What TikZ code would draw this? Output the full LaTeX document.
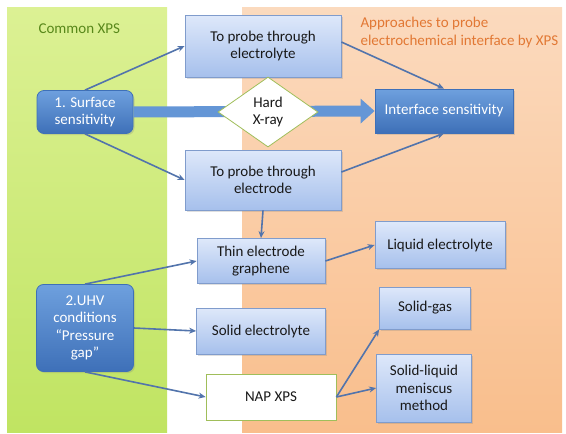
\documentclass[tikz,border=0pt]{standalone}
\usepackage{fontspec}
\setmainfont{Carlito}
\usetikzlibrary{arrows.meta,shapes.geometric,shadows}

\definecolor{greentop}{RGB}{220,241,148}
\definecolor{greenbottom}{RGB}{192,228,98}
\definecolor{greentext}{RGB}{88,136,26}
\definecolor{orangetop}{RGB}{251,218,190}
\definecolor{orangebottom}{RGB}{249,190,140}
\definecolor{orangetext}{RGB}{226,120,52}
\definecolor{boxtop}{RGB}{222,232,250}
\definecolor{boxbottom}{RGB}{166,192,236}
\definecolor{boxline}{RGB}{128,156,204}
\definecolor{darktop}{RGB}{110,160,222}
\definecolor{darkbottom}{RGB}{62,112,184}
\definecolor{arrowblue}{RGB}{82,116,172}
\definecolor{diamondline}{RGB}{160,190,90}

\begin{document}
\begin{tikzpicture}
[x=1pt, y=-1pt,
label/.style={font=\fontsize{15}{17.5}\selectfont, anchor=north west, align=left},
approach/.style={draw=boxline, line width=0.8pt, top color=boxtop, bottom color=boxbottom,
  align=center, font=\fontsize{15}{17.5}\selectfont, text=black!90,
  drop shadow={opacity=0.25, shadow xshift=1.5pt, shadow yshift=-1.5pt}},
condition/.style={draw=darkbottom, line width=0.8pt, rounded corners=7pt, top color=darktop,
  bottom color=darkbottom, align=center, font=\fontsize{15}{17.5}\selectfont, text=white,
  drop shadow={opacity=0.25, shadow xshift=1.5pt, shadow yshift=-1.5pt}},
link/.style={draw=arrowblue, line width=1.6pt, -{Stealth[length=7pt,width=6pt]}},
bar/.style={draw=darktop!80!darkbottom, line width=11pt, -{Triangle[length=14pt,width=24pt]}}]

% panels
\fill[white] (0,0) rectangle (566,434);
\fill[top color=greentop, bottom color=greenbottom] (7,7) rectangle (167,432);
\fill[top color=orangetop, bottom color=orangebottom] (242,7) rectangle (562,432);
\node[label, text=greentext] at (35,20) {Common XPS};
\node[label, text=orangetext] at (357,14) {Approaches to probe\\electrochemical interface by XPS};

% nodes
\node[condition, minimum width=96pt, minimum height=43pt] (surface) at (85,112) {1. Surface\\sensitivity};
\node[condition, minimum width=97pt, minimum height=87pt] (uhv) at (85,328) {2.UHV\\conditions\\``Pressure\\gap''};
\node[condition, rounded corners=0pt, minimum width=138pt, minimum height=44pt] (interface) at (444,111) {Interface sensitivity};
\node[approach, minimum width=156pt, minimum height=62pt] (electrolyte) at (263,46) {To probe through\\electrolyte};
\node[approach, minimum width=156pt, minimum height=60pt] (electrode) at (263,180) {To probe through\\electrode};
\node[approach, minimum width=128pt, minimum height=45pt] (thin) at (261,261) {Thin electrode\\graphene};
\node[approach, minimum width=130pt, minimum height=47pt] (liquid) at (440,245) {Liquid electrolyte};
\node[approach, minimum width=129pt, minimum height=46pt] (solid) at (261,331) {Solid electrolyte};
\node[draw=diamondline, line width=0.8pt, fill=white, minimum width=130pt, minimum height=46pt,
  font=\fontsize{15}{17.5}\selectfont, text=black!90] (nap) at (271,397) {NAP XPS};
\node[approach, minimum width=91pt, minimum height=42pt] (gas) at (425,308) {Solid-gas};
\node[approach, minimum width=95pt, minimum height=68pt] (meniscus) at (424,388) {Solid-liquid\\meniscus\\method};

% hard x-ray path
\draw[bar] (surface.east) -- (interface.west);
\node[diamond, draw=diamondline, line width=0.8pt, fill=white, inner sep=0pt, minimum width=100pt,
  minimum height=70pt, align=center, font=\fontsize{15}{17.5}\selectfont, text=black!90] (hard) at (268,112) {Hard\\X-ray};

% connectors
\draw[link] (surface.north) -- (electrolyte.west);
\draw[link] (surface.south) -- (electrode.west);
\draw[link] ([yshift=4pt]electrolyte.east) -- (interface.north);
\draw[link] ([yshift=8pt]electrode.east) -- (interface.south);
\draw[link] (electrode.south) -- (thin.north);
\draw[link] (thin.east) -- (liquid.west);
\draw[link] (uhv.north) -- (thin.west);
\draw[link] (uhv.east) -- (solid.west);
\draw[link] (uhv.south) -- (nap.west);
\draw[link] (nap.east) -- (gas.south west);
\draw[link] (nap.east) -- (meniscus.west);
\end{tikzpicture}
\end{document}
